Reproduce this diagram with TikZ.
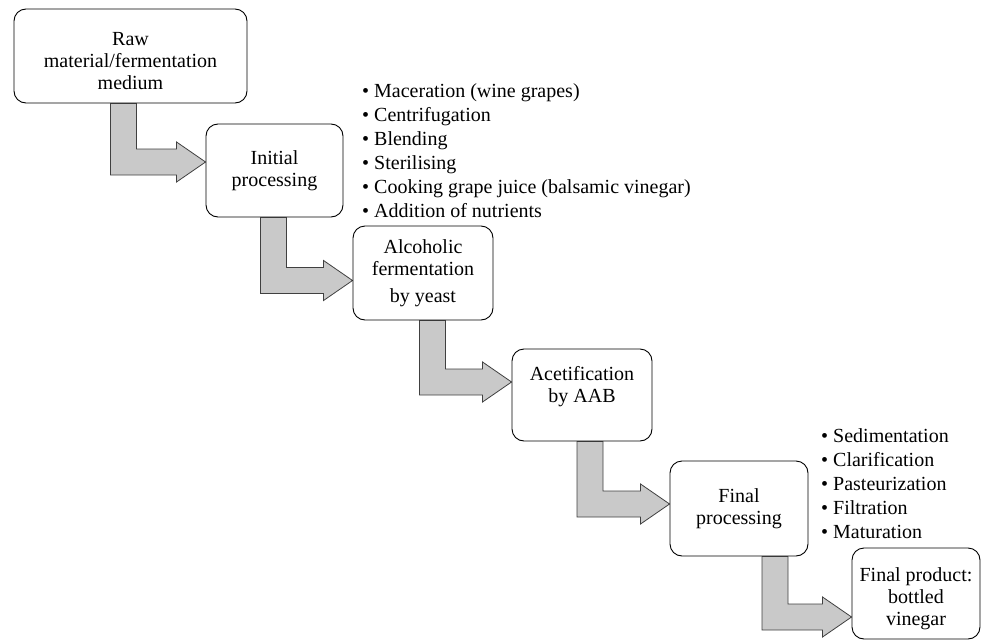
\documentclass[tikz,border=0pt]{standalone}
\usepackage{fontspec}
\setmainfont{Liberation Serif}
\usetikzlibrary{calc,backgrounds}
\newcommand\bentarrow[4]{%
 \draw[bentarr] let \p1=(#1.south), \p2=(#2.west) in
 ({(#3-13)*1pt},\y1) -- ({(#3+13)*1pt},\y1) -- ({(#3+13)*1pt},{-(#4-13)*1pt})
 -- ({\x2-29pt},{-(#4-13)*1pt}) -- ({\x2-29pt},{-(#4-20)*1pt}) -- ({\x2},{-(#4)*1pt})
 -- ({\x2-29pt},{-(#4+20)*1pt}) -- ({\x2-29pt},{-(#4+13)*1pt})
 -- ({(#3-13)*1pt},{-(#4+13)*1pt}) -- cycle;}
\begin{document}
\begin{tikzpicture}[x=1pt,y=1pt,
  box/.style={draw=black, line width=0.9pt, rounded corners=12pt, fill=white, align=center, inner sep=0pt, font=\fontsize{20}{22}\selectfont},
  boxtext/.style={align=center, inner sep=0pt, font=\fontsize{20}{22}\selectfont},
  bentarr/.style={draw=black!75, line width=0.8pt, fill=black!21, line join=miter},
  bullets/.style={anchor=base west, inner sep=0pt, font=\fontsize{20}{24}\selectfont}]
\useasboundingbox (0,0) rectangle (989,-640);
\node[box, minimum width=233pt, minimum height=94pt] (b1) at (130.5,-56) {};
\node[boxtext] (t1) at ($(b1.center)+(0,-5)$) {Raw\\material/fermentation\\medium};
\node[box, minimum width=137pt, minimum height=93pt] (b2) at (274.5,-170.5) {Initial\\processing};
\node[box, minimum width=140pt, minimum height=94pt] (b3) at (423,-273) {Alcoholic\\fermentation\\[5pt]by yeast};
\node[box, minimum width=140pt, minimum height=92pt] (b4) at (582,-395) {Acetification\\by AAB\\\mbox{}};
\node[box, minimum width=138pt, minimum height=95pt] (b5) at (739,-508.5) {Final\\processing};
\node[box, minimum width=128pt, minimum height=91pt] (b6) at (916,-593.5) {};
\node[boxtext] (t6) at ($(b6.center)+(0,-5.5)$) {Final product:\\bottled\\vinegar};
\foreach \t [count=\i] in {Maceration (wine grapes), Centrifugation, Blending, Sterilising, Cooking grape juice (balsamic vinegar), Addition of nutrients}
  \node[bullets] (p\i) at (362, {-97-24*(\i-1)}) {• \t};
\foreach \t [count=\i] in {Sedimentation, Clarification, Pasteurization, Filtration, Maturation}
  \node[bullets] (q\i) at (821, {-442-24*(\i-1)}) {• \t};
\begin{scope}[on background layer]
\bentarrow{b1}{b2}{123.5}{162}
\bentarrow{b2}{b3}{273.5}{280.5}
\bentarrow{b3}{b4}{432.5}{382}
\bentarrow{b4}{b5}{590}{504}
\bentarrow{b5}{b6}{775}{617}
\end{scope}
\end{tikzpicture}
\end{document}
